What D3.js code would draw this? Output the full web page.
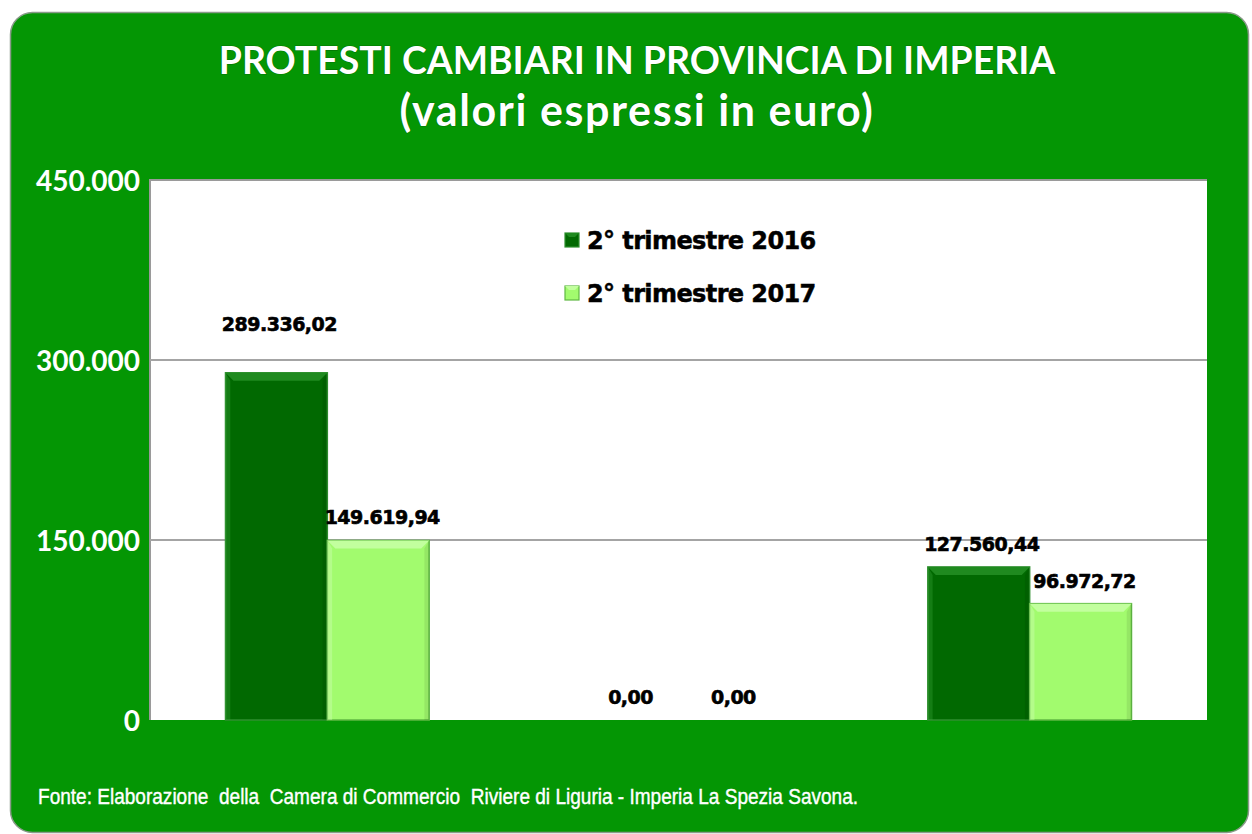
<!DOCTYPE html>
<html>
<head>
<meta charset="utf-8">
<script src="https://cdn.jsdelivr.net/npm/d3@7"></script>
<style>
  html, body { margin: 0; padding: 0; background: #ffffff; }
  svg { display: block; }
</style>
</head>
<body>
<svg id="chart" width="1252" height="834"></svg>
<script>
// Protesti cambiari, provincia di Imperia – 2° trimestre 2016 vs 2017 (euro)
const categories = ["Pagherò e vaglia cambiari", "Tratte non accettate", "Assegni bancari"];
const seriesNames = ["2° trimestre 2016", "2° trimestre 2017"];
const values2016 = [289336.02, 0, 127560.44];
const values2017 = [149619.94, 0, 96972.72];
const yTicks = [0, 150000, 300000, 450000];
const titleLines = ["PROTESTI CAMBIARI IN PROVINCIA DI IMPERIA", "(valori espressi in euro)"];
const sourceNote = "Fonte: Elaborazione  della  Camera di Commercio  Riviere di Liguria - Imperia La Spezia Savona.";

const W = 1252, H = 834;
const plot = { left: 150, top: 180, right: 1207, bottom: 720 };
const colors = {
  bg: "#049604",
  dark: { fill: "#016901", edge: "#2f8f2f", bevel: "#1f8a1f", shine: "#3aa33a" },
  light: { fill: "#a2fb6e", edge: "#5fb843", bevel: "#c2ff9e", shine: "#d6ffbf" }
};

const svg = d3.select("#chart");

// outer green panel with rounded corners
svg.append("rect")
  .attr("x", 10.5).attr("y", 12.5)
  .attr("width", 1238).attr("height", 820)
  .attr("rx", 22)
  .attr("fill", colors.bg)
  .attr("stroke", "#8a9a8a").attr("stroke-width", 1.5);

// title
const titleStyle = [
  { size: 37.4, spacing: 0, y: 74 },
  { size: 43, spacing: 1.6, y: 126 }
];
svg.append("g").selectAll("text").data(titleLines).join("text")
  .attr("x", 637)
  .attr("y", (d, i) => titleStyle[i].y)
  .attr("text-anchor", "middle")
  .attr("fill", "#ffffff")
  .style("font-family", "Lato, 'Open Sans', sans-serif")
  .style("font-weight", "700")
  .style("font-size", (d, i) => titleStyle[i].size + "px")
  .style("letter-spacing", (d, i) => titleStyle[i].spacing + "px")
  .style("paint-order", "stroke")
  .style("stroke", "rgba(0,60,0,0.35)")
  .style("stroke-width", "1.2px")
  .text(d => d);

// scales
const x0 = d3.scaleBand()
  .domain(categories)
  .range([plot.left, plot.right])
  .paddingInner(0.42)
  .paddingOuter(0.215);
const x1 = d3.scaleBand()
  .domain(seriesNames)
  .range([0, x0.bandwidth()]);
const y = d3.scaleLinear()
  .domain([0, 450000])
  .range([plot.bottom, plot.top]);

// plot area
svg.append("rect")
  .attr("x", plot.left).attr("y", plot.top)
  .attr("width", plot.right - plot.left).attr("height", plot.bottom - plot.top)
  .attr("fill", "#ffffff");
svg.append("path")
  .attr("d", `M${plot.left},${plot.bottom}V${plot.top}H${plot.right}`)
  .attr("fill", "none").attr("stroke", "#9a9a9a").attr("stroke-width", 2);

// gridlines
svg.append("g")
  .selectAll("line")
  .data(yTicks.filter(t => t > 0 && t < 450000))
  .join("line")
  .attr("x1", plot.left).attr("x2", plot.right)
  .attr("y1", d => y(d)).attr("y2", d => y(d))
  .attr("stroke", "#a4a4a4").attr("stroke-width", 2);

// y axis
const fmtAxis = v => d3.format(",")(v).replace(/,/g, ".");
const yAxis = svg.append("g")
  .attr("transform", `translate(${plot.left - 10},0)`)
  .call(d3.axisLeft(y).tickValues(yTicks).tickSize(0).tickPadding(0).tickFormat(fmtAxis));
yAxis.select(".domain").remove();
yAxis.selectAll("text")
  .attr("fill", "#ffffff")
  .attr("dy", "0.36em")
  .style("font-family", "Lato, 'Open Sans', sans-serif")
  .style("font-weight", "700")
  .style("font-size", "28px");

// bars
const rows = categories.map((c, i) => ({
  cat: c,
  items: [
    { series: seriesNames[0], value: values2016[i], style: colors.dark, idx: 0, ci: i },
    { series: seriesNames[1], value: values2017[i], style: colors.light, idx: 1, ci: i }
  ]
}));

const groups = svg.append("g").selectAll("g")
  .data(rows).join("g")
  .attr("transform", d => `translate(${x0(d.cat)},0)`);

const bar = groups.selectAll("g.bar")
  .data(d => d.items.filter(e => e.value > 0))
  .join("g").attr("class", "bar");

bar.append("rect")
  .attr("x", d => x1(d.series))
  .attr("y", d => y(d.value))
  .attr("width", x1.bandwidth())
  .attr("height", d => y(0) - y(d.value))
  .attr("fill", d => d.style.fill)
  .attr("stroke", d => d.style.edge)
  .attr("stroke-width", 1.5);

// bevel on top edge
const bev = 8;
bar.append("path")
  .attr("d", d => {
    const xa = x1(d.series), xb = xa + x1.bandwidth(), yt = y(d.value);
    return `M${xa},${yt}H${xb}L${xb - bev},${yt + bev}H${xa + bev}Z`;
  })
  .attr("fill", d => d.style.bevel);
// side bevels
bar.append("path")
  .attr("d", d => {
    const xa = x1(d.series), yt = y(d.value), yb = y(0);
    return `M${xa},${yt}L${xa + bev * 0.6},${yt + bev}V${yb}H${xa}Z`;
  })
  .attr("fill", d => d.style.shine).attr("opacity", 0.35);
bar.append("path")
  .attr("d", d => {
    const xb = x1(d.series) + x1.bandwidth(), yt = y(d.value), yb = y(0);
    return `M${xb},${yt}L${xb - bev * 0.6},${yt + bev}V${yb}H${xb}Z`;
  })
  .attr("fill", "#000").attr("opacity", 0.08);

// value labels
const fmtVal = v => d3.format(",.2f")(v).replace(/,/g, "#").replace(/\./g, ",").replace(/#/g, ".");
const labelLift = { "0-0": 42 };
groups.selectAll("text.val")
  .data(d => d.items)
  .join("text").attr("class", "val")
  .attr("x", d => x1(d.series) + x1.bandwidth() / 2 + (d.idx === 1 ? 4 : 3))
  .attr("y", d => y(d.value) - (labelLift[`${d.ci}-${d.idx}`] || 16))
  .attr("text-anchor", "middle")
  .attr("fill", "#000")
  .style("font-family", "'DejaVu Sans', Verdana, sans-serif")
  .style("font-weight", "700")
  .style("font-size", "19px")
  .style("letter-spacing", "-0.5px")
  .style("stroke", "#000")
  .style("stroke-width", "0.6px")
  .text(d => fmtVal(d.value));

// legend
const legend = svg.append("g").attr("transform", "translate(565,0)");
const legItems = legend.selectAll("g").data([colors.dark, colors.light]).join("g")
  .attr("transform", (d, i) => `translate(0,${240 + i * 53})`);
legItems.append("rect")
  .attr("x", 0).attr("y", -7).attr("width", 14).attr("height", 14)
  .attr("fill", d => d.fill).attr("stroke", d => d.edge).attr("stroke-width", 1.2);
legItems.append("path")
  .attr("d", "M0,-7H14L10,-3H4Z")
  .attr("fill", d => d.bevel);
legItems.append("text")
  .attr("x", 22).attr("y", 0).attr("dy", "0.36em")
  .attr("fill", "#000")
  .style("font-family", "'DejaVu Sans', Verdana, sans-serif")
  .style("font-weight", "700")
  .style("font-size", "24px")
  .style("letter-spacing", "-0.6px")
  .style("stroke", "#000")
  .style("stroke-width", "0.5px")
  .text((d, i) => seriesNames[i]);

// source note (condensed)
svg.append("g")
  .attr("transform", "translate(38,804) scale(0.866,1)")
  .append("text")
  .attr("x", 0).attr("y", 0)
  .attr("fill", "#ffffff")
  .style("font-family", "'Liberation Sans', Arial, sans-serif")
  .style("font-size", "22px")
  .style("stroke", "#ffffff")
  .style("stroke-width", "0.4px")
  .style("white-space", "pre")
  .attr("xml:space", "preserve")
  .text(sourceNote);
</script>
</body>
</html>
